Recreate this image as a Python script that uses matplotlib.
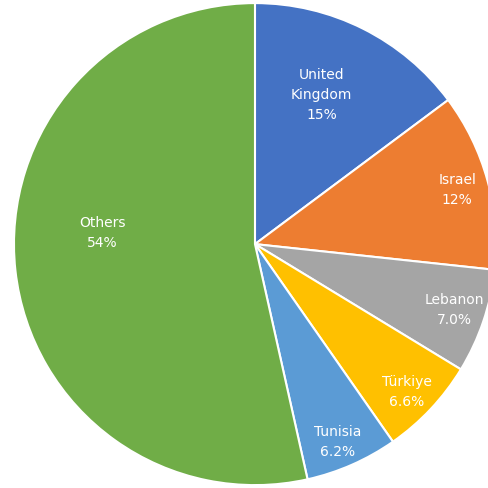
import matplotlib
matplotlib.use("Agg")
import matplotlib.pyplot as plt
import numpy as np

# Share by country
countries = ["United\nKingdom", "Israel", "Lebanon", "Türkiye", "Tunisia", "Others"]
shares = [14.8, 11.9, 7.0, 6.6, 6.2, 53.5]
pct_text = ["15%", "12%", "7.0%", "6.6%", "6.2%", "54%"]
colors = ["#4472C4", "#ED7D31", "#A5A5A5", "#FFC000", "#5B9BD5", "#70AD47"]

# label placement tweaks (radius, angle shift in degrees)
lbl_r = [0.68, 0.87, 0.87, 0.875, 0.885, 0.635]
lbl_shift = [2.7, 0, 0.8, -0.8, -1.0, -10.8]

fig = plt.figure(figsize=(4.89, 4.89), dpi=100)
ax = fig.add_axes([0, 0, 1, 1])

wedges, _ = ax.pie(shares, colors=colors, startangle=90, counterclock=False,
                   radius=1.0, wedgeprops=dict(edgecolor="white", linewidth=1.5))

for w, name, pct, r, sh in zip(wedges, countries, pct_text, lbl_r, lbl_shift):
    mid = np.deg2rad((w.theta1 + w.theta2) / 2 + sh)
    ax.text(r * np.cos(mid), r * np.sin(mid), name + "\n" + pct,
            ha="center", va="center", color="white", fontsize=10,
            linespacing=1.55, family="DejaVu Sans")

ax.set_aspect("equal")
ax.set_xlim(-1.058, 0.971)
ax.set_ylim(-1.012, 1.017)
ax.axis("off")

fig.savefig("out.png", dpi=100)
